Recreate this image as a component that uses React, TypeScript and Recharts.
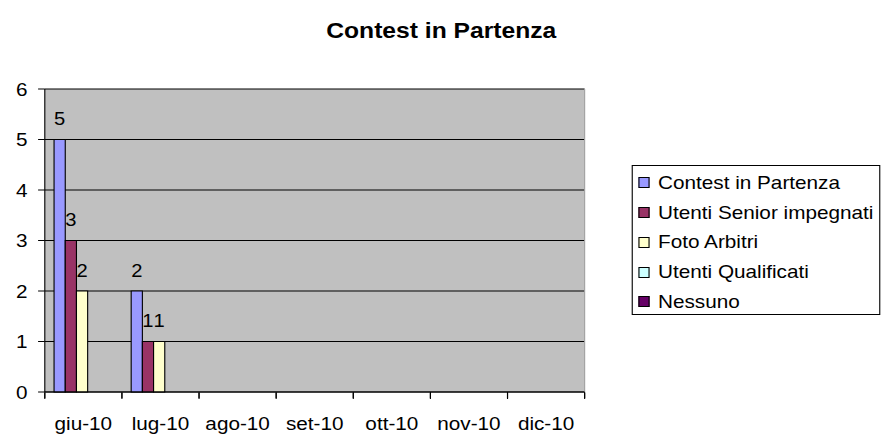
import React from 'react';
import { BarChart, Bar, XAxis, YAxis, CartesianGrid, Legend, LabelList, ReferenceLine } from 'recharts';

const months = ['giu-10', 'lug-10', 'ago-10', 'set-10', 'ott-10', 'nov-10', 'dic-10'];
const contestInPartenza = [5, 2, null, null, null, null, null];
const utentiSeniorImpegnati = [3, 1, null, null, null, null, null];
const fotoArbitri = [2, 1, null, null, null, null, null];
const utentiQualificati = [null, null, null, null, null, null, null];
const nessuno = [null, null, null, null, null, null, null];
const yTicks = [0, 1, 2, 3, 4, 5, 6];
const boundaryTicks = [0, 1, 2, 3, 4, 5, 6, 7];

const seriesNames = ['Contest in Partenza', 'Utenti Senior impegnati', 'Foto Arbitri', 'Utenti Qualificati', 'Nessuno'];
const seriesColors = ['#9999FF', '#993366', '#FFFFCC', '#CCFFFF', '#660066'];
const seriesValues = [contestInPartenza, utentiSeniorImpegnati, fotoArbitri, utentiQualificati, nessuno];

const data = months.map((m, i) => {
  const row: any = { month: m, idx: i + 0.5 };
  seriesValues.forEach((vals, k) => { row['s' + k] = vals[i]; });
  return row;
});

const SX = 1.12;
const FONT = '"Liberation Sans", Arial, sans-serif';

const LegendBox = () => (
  <div style={{ width: 222, height: 150, boxSizing: 'border-box', border: '1px solid #000', background: '#fff', paddingTop: 2, fontFamily: FONT, fontSize: 18.5, color: '#000' }}>
    {seriesNames.map((n, i) => (
      <div key={n} style={{ height: 29.75, display: 'flex', alignItems: 'center', whiteSpace: 'nowrap' }}>
        <span style={{ display: 'inline-block', width: 10, height: 11, boxSizing: 'border-box', border: '1px solid #000', background: seriesColors[i], marginLeft: 4.5, marginRight: 8 }} />
        <span>{n}</span>
      </div>
    ))}
  </div>
);

const labelFmt = (v: any) => (v === null || v === undefined || v === 0 ? '' : v);

const BoundaryTick = (props: any) => {
  const { x, y } = props;
  return <line x1={x} x2={x} y1={y - 7} y2={y - 1} stroke="#000" />;
};

export default function App() {
  return (
    <div style={{ position: 'absolute', left: 0, top: 0, width: 790, height: 447, transform: `scaleX(${SX})`, transformOrigin: '0 0', fontFamily: FONT, background: '#fff' }}>
      <div style={{ position: 'absolute', left: 0, top: 20, width: 788, textAlign: 'center', fontWeight: 'bold', fontSize: 22, lineHeight: '22px', color: '#000' }}>
        Contest in Partenza
      </div>
      <BarChart width={790} height={447} data={data} margin={{ top: 89, right: 268, bottom: 53, left: 0 }} barCategoryGap="12%" barGap={0}>
        <CartesianGrid xAxisId="cat" vertical={false} horizontal stroke="#000" fill="#C0C0C0" fillOpacity={1} />
        <XAxis xAxisId="cat" dataKey="month" height={1} tickSize={0} tickLine={false} axisLine={{ stroke: '#000' }} tickMargin={25} interval={0} tick={{ fill: '#000', fontSize: 18.5 }} />
        <XAxis xAxisId="num" dataKey="idx" type="number" domain={[0, 7]} ticks={boundaryTicks} interval={0} allowDataOverflow height={1} tickSize={6} tickMargin={0} tickLine={{ stroke: '#000' }} axisLine={false} tick={<BoundaryTick />} />
        <YAxis width={40} domain={[0, 6]} ticks={yTicks} interval={0} tickSize={6} tickMargin={9.5} tickLine={{ stroke: '#000' }} axisLine={{ stroke: '#000' }} tick={{ fill: '#000', fontSize: 18.5 }} />
        <ReferenceLine xAxisId="num" x={7} stroke="#A0A0A0" />
        {seriesNames.map((n, k) => (
          <Bar key={n} xAxisId="cat" dataKey={'s' + k} name={n} fill={seriesColors[k]} stroke="#000" strokeWidth={1} isAnimationActive={false}>
            <LabelList dataKey={'s' + k} position="top" offset={14} fill="#000" fontSize={18} formatter={labelFmt} />
          </Bar>
        ))}
        <Legend layout="vertical" align="center" verticalAlign="middle" wrapperStyle={{ left: 564, top: 165, width: 222, height: 150 }} content={() => <LegendBox />} />
      </BarChart>
    </div>
  );
}
